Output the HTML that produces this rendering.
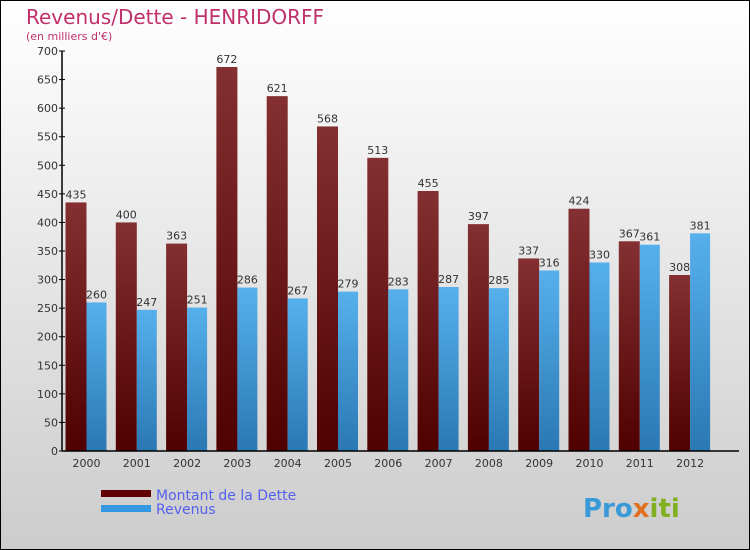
<!DOCTYPE html>
<html><head><meta charset="utf-8"><style>
body{margin:0}
#c{position:relative;width:748px;height:548px;border:1px solid #000;background:linear-gradient(#fff,#ccc);font-family:"DejaVu Sans","Liberation Sans",sans-serif;overflow:hidden}
</style></head><body>
<div id="c">
<svg width="748" height="548" id="s">
<defs>
<linearGradient id="gd" x1="0" y1="0" x2="0" y2="1"><stop offset="0" stop-color="#843033"/><stop offset="1" stop-color="#500000"/></linearGradient>
<linearGradient id="gr" x1="0" y1="0" x2="0" y2="1"><stop offset="0" stop-color="#56b0ec"/><stop offset="1" stop-color="#2a78b4"/></linearGradient>
</defs>
<text x="25" y="23" font-size="20" fill="#c0306a">Revenus/Dette - HENRIDORFF</text>
<text x="25" y="39" font-size="11" fill="#c0306a">(en milliers d'€)</text>
<g id="g"></g>
<rect x="100" y="489" width="50" height="7" fill="#600000"/>
<rect x="100" y="504" width="50" height="7" fill="#3398df"/>
<text x="155" y="499" font-size="14" fill="#5560ee">Montant de la Dette</text>
<text x="155" y="513" font-size="14" fill="#5560ee">Revenus</text>
<text x="582" y="516" font-size="26" font-weight="bold" fill="#3a9ad8">Pro<tspan fill="#e07020">x</tspan><tspan fill="#80b020">iti</tspan></text>
</svg></div>
<script>
const years=["2000","2001","2002","2003","2004","2005","2006","2007","2008","2009","2010","2011","2012"];
const dette=[435,400,363,672,621,568,513,455,397,337,424,367,308];
const revenus=[260,247,251,286,267,279,283,287,285,316,330,361,381];
const yTicks=[0,50,100,150,200,250,300,350,400,450,500,550,600,650,700];
const NS="http://www.w3.org/2000/svg",g=document.getElementById('g');
const y=v=>450-v*400/700, cx=i=>85.5+50.3*i;
function mk(t,a,txt){const e=document.createElementNS(NS,t);for(const k in a)e.setAttribute(k,a[k]);if(txt!==undefined)e.textContent=txt;g.appendChild(e);return e;}
years.forEach((yr,i)=>{
 const c=cx(i);
 let b=mk('rect',{x:c-21,y:y(dette[i]),width:21,height:450-y(dette[i]),fill:'url(#gd)'});
 
 
 b=mk('rect',{x:c,y:y(revenus[i]),width:20,height:450-y(revenus[i]),fill:'url(#gr)'});
 
 
 let t=mk('text',{x:c-10.5,y:y(dette[i])-4,'font-size':11,fill:'#333','text-anchor':'middle'},dette[i]);
 
 
 t=mk('text',{x:c+10,y:y(revenus[i])-4,'font-size':11,fill:'#333','text-anchor':'middle'},revenus[i]);
 
 
 t=mk('text',{x:c,y:466,'font-size':11,fill:'#333','text-anchor':'middle'},yr);
 
 
});
yTicks.forEach(v=>{
 const l=mk('line',{x1:58,x2:64,y1:y(v),y2:y(v),stroke:'#000'});
 
 
 const t=mk('text',{x:57,y:y(v)+4,'font-size':11,fill:'#333','text-anchor':'end'},v);
 
 
});
let a=mk('line',{x1:61,x2:61,y1:50,y2:450,stroke:'#000','stroke-width':1.5});


a=mk('line',{x1:61,x2:738,y1:450,y2:450,stroke:'#000','stroke-width':1.5});


</script>
</body></html>
